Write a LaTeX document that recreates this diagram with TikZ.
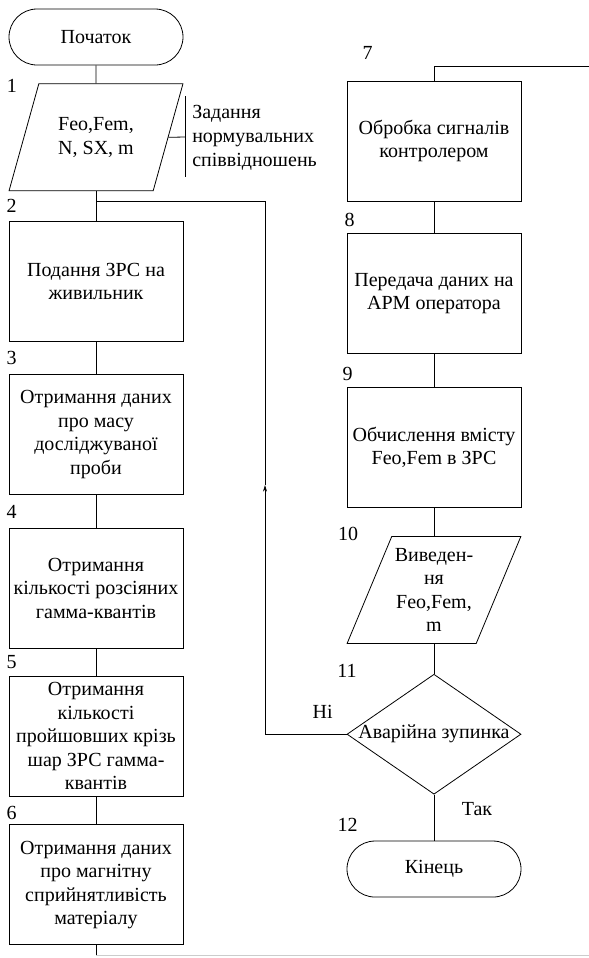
\documentclass[tikz,border=0pt]{standalone}
\usepackage{fontspec}
\setmainfont{Liberation Serif}
\usetikzlibrary{shapes.geometric, arrows.meta, positioning}

\begin{document}
\begin{tikzpicture}[
    x=0.75pt, y=-0.75pt,
    font=\rmfamily\fontsize{15}{17.6}\selectfont,
    block/.style={rectangle, draw=black, line width=0.6pt, minimum width=130.5pt, minimum height=90pt, align=center, inner sep=2pt},
    term/.style={rectangle, draw=black, line width=0.6pt, rounded corners=21pt, minimum width=130.5pt, minimum height=42pt, align=center},
    io/.style={trapezium, trapezium left angle=63.6, trapezium right angle=116.4, trapezium stretches=true, draw=black, line width=0.6pt, minimum width=130.5pt, minimum height=80.25pt, align=center, inner sep=0pt},
    decision/.style={diamond, draw=black, line width=0.6pt, minimum width=130.5pt, minimum height=90pt, inner sep=0pt},
    num/.style={inner sep=0pt},
    line/.style={line width=0.6pt},
    arrow/.style={-{Stealth[length=5pt, width=3pt]}, line width=0.6pt}
]
\useasboundingbox (0,0) rectangle (589,958);

% left column
\node[term] (t0) at (96,37) {Початок};
\node[io, below=13.5pt of t0] (d1) {Feo,Fem,\\N, SX, m};
\node[block, below=22.5pt of d1] (b2) {Подання ЗРС на\\живильник};
\node[block, below=24pt of b2] (b3) {Отримання даних\\про масу\\досліджуваної\\проби};
\node[block, below=24.75pt of b3] (b4) {Отримання\\кількості розсіяних\\гамма-квантів};
\node[block, below=20.25pt of b4] (b5) {Отримання\\кількості\\пройшовших крізь\\шар ЗРС гамма-\\квантів};
\node[block, below=21pt of b5] (b6) {Отримання даних\\про магнітну\\сприйнятливість\\матеріалу};

% right column
\node[block] (b7) at (434,141) {Обробка сигналів\\контролером};
\node[block, below=24pt of b7] (b8) {Передача даних на\\АРМ оператора};
\node[block, below=24.75pt of b8] (b9) {Обчислення вмісту\\Feo,Fem в ЗРС};
\node[io, below=21pt of b9] (d10) {Виведен-\\ня\\Feo,Fem,\\m};
\node[decision, below=22.5pt of d10, label={center:Аварійна зупинка}] (d11) {};
\node[term, below=34.5pt of d11] (t12) {Кінець};

% numbers
\node[num] (n1) at (12,86) {1};
\node[num] (n2) at ([shift={(3,-15)}]b2.north west) {2};
\node[num] (n3) at ([shift={(3,-16)}]b3.north west) {3};
\node[num] (n4) at ([shift={(3,-16)}]b4.north west) {4};
\node[num] (n5) at ([shift={(3,-14)}]b5.north west) {5};
\node[num] (n6) at ([shift={(3,-11)}]b6.north west) {6};
\node[num] (n7) at ([shift={(21,-28)}]b7.north west) {7};
\node[num] (n8) at ([shift={(3,-13)}]b8.north west) {8};
\node[num] (n9) at ([shift={(1,-13)}]b9.north west) {9};
\node[num] (n10) at (348,534) {10};
\node[num] (n11) at (347,671) {11};
\node[num] (n12) at ([shift={(1,-16)}]t12.north west) {12};

% comment
\node[inner sep=0pt, anchor=west, align=left, font=\rmfamily\fontsize{15}{18}\selectfont] (note) at (192,138) {Задання\\нормувальних\\співвідношень};
\coordinate (cm) at (185,137);
\draw[line] (d1.east) -- (cm);
\draw[line] (185,96) -- (185,177);

% flow
\coordinate (j2) at (96,201);
\draw[line] (t0) -- (d1);
\draw[line] (d1.south) -- (b2.north);
\draw[line] (b2) -- (b3);
\draw[line] (b3) -- (b4);
\draw[line] (b4) -- (b5);
\draw[line] (b5) -- (b6);
\coordinate (c6) at (96,955);
\coordinate (go6) at (589,955);
\draw[line] (b6.south) -- (c6);
\draw[line, black!20] (c6) -- (go6);

\coordinate (go7) at (589,66);
\draw[line] (b7.north) |- (go7);
\draw[line] (b7) -- (b8);
\draw[line] (b8) -- (b9);
\draw[line] (b9.south) -- (d10.north);
\draw[line] (d10.south) -- (d11.north);
\draw[line] (d11) -- (t12);
\node[num] (yes) at ([shift={(43,14)}]d11.south) {Так};

% loop back
\coordinate (lp) at (265,485);
\draw[arrow] (d11.west) -| (lp);
\draw[line] (lp) |- (j2);
\node[num] (no) at ([shift={(-24,-22)}]d11.west) {Ні};

\end{tikzpicture}
\end{document}
